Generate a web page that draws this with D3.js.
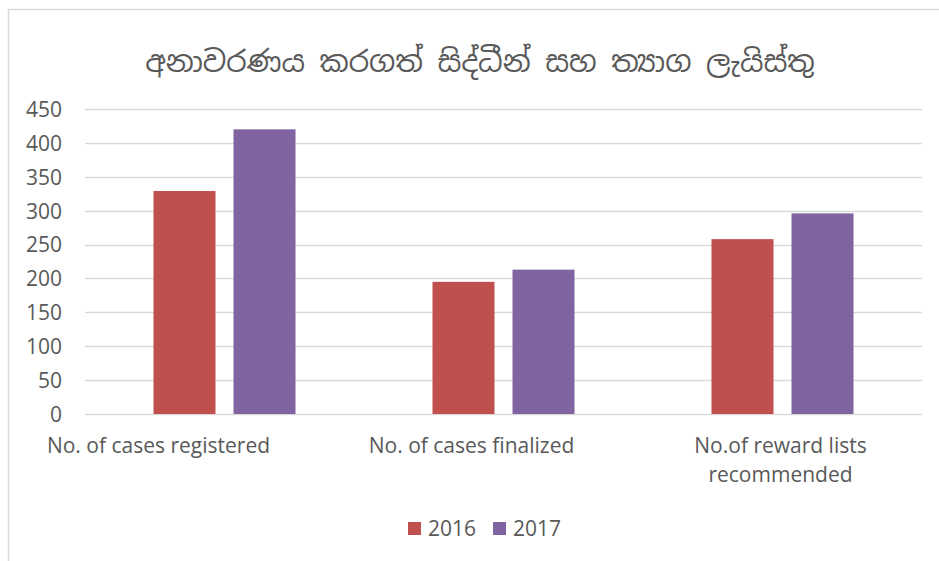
<!DOCTYPE html>
<html>
<head>
<meta charset="utf-8">
<script src="https://cdn.jsdelivr.net/npm/d3@7"></script>
<style>
  html, body { margin: 0; padding: 0; background: #fff; }
  svg { display: block; }
  text { font-family: "Open Sans", "Noto Sans", sans-serif; fill: #595959; }
</style>
</head>
<body>
<svg id="chart" width="939" height="561"></svg>
<script>
const title = "අනාවරණය කරගත් සිද්ධීන් සහ ත්‍යාග ලැයිස්තු";
const categories = ["No. of cases registered", "No. of cases finalized", "No.of reward lists recommended"];
const categoryLines = [["No. of cases registered"], ["No. of cases finalized"], ["No.of reward lists", "recommended"]];
const seriesNames = ["2016", "2017"];
const values2016 = [329, 195, 258];
const values2017 = [420, 213, 296];
const yTicks = [0, 50, 100, 150, 200, 250, 300, 350, 400, 450];
const colors = ["#C0504D", "#8064A2"];

const svg = d3.select("#chart");
const W = 939, H = 561;
const plot = { left: 85, right: 922, top: 109, bottom: 414 };

// chart border
svg.append("rect").attr("x", 8.5).attr("y", 9.5).attr("width", W).attr("height", H)
  .attr("fill", "none").attr("stroke", "#D9D9D9").attr("stroke-width", 1.5);

// title
svg.append("text").attr("x", 480).attr("y", 72).attr("text-anchor", "middle")
  .style("font-family", "'Noto Sans Sinhala', 'Iskoola Pota', 'Noto Sans', sans-serif")
  .style("font-size", "29px").style("fill", "#595959").text(title);

const x = d3.scaleBand().domain(categories).range([plot.left, plot.right]).padding(0);
const xInner = d3.scaleBand().domain(seriesNames).range([0, x.bandwidth()])
  .paddingInner(0.225).paddingOuter(0.856);
const y = d3.scaleLinear().domain([0, 450]).range([plot.bottom, plot.top]);

// gridlines
svg.append("g").selectAll("line").data(yTicks).join("line")
  .attr("x1", plot.left).attr("x2", plot.right)
  .attr("y1", d => Math.round(y(d)) + 0.5).attr("y2", d => Math.round(y(d)) + 0.5)
  .attr("stroke", "#D9D9D9").attr("stroke-width", 1.5);

// y axis labels
const yAxis = d3.axisLeft(y).tickValues(yTicks).tickSize(0).tickPadding(0);
const gy = svg.append("g").attr("transform", "translate(62,0)").call(yAxis);
gy.select(".domain").remove();
gy.selectAll("text").style("font-size", "21px").style("fill", "#595959")
  .style("font-family", "'Open Sans', sans-serif").attr("dy", "0.35em");

// bars
const data = categories.map((c, i) => ({ cat: c, vals: [values2016[i], values2017[i]] }));
const groups = svg.append("g").selectAll("g").data(data).join("g")
  .attr("transform", d => `translate(${x(d.cat)},0)`);
groups.selectAll("rect").data(d => d.vals.map((v, j) => ({ s: seriesNames[j], v, j })))
  .join("rect")
  .attr("x", d => xInner(d.s)).attr("width", xInner.bandwidth())
  .attr("y", d => y(d.v)).attr("height", d => y(0) - y(d.v))
  .attr("fill", d => colors[d.j]);

// category labels
const labelShift = [-66, -32, -2];
const gx = svg.append("g");
categories.forEach((c, i) => {
  const t = gx.append("text")
    .attr("x", x(c) + x.bandwidth() / 2 + labelShift[i])
    .attr("y", 453).attr("text-anchor", "middle").style("font-size", "21px");
  categoryLines[i].forEach((line, k) => {
    t.append("tspan").attr("x", x(c) + x.bandwidth() / 2 + labelShift[i])
      .attr("dy", k === 0 ? 0 : 29).text(line);
  });
});

// legend
const legendX = [408, 493];
const leg = svg.append("g").selectAll("g").data(seriesNames).join("g")
  .attr("transform", (d, i) => `translate(${legendX[i]},522)`);
leg.append("rect").attr("width", 13).attr("height", 13).attr("fill", (d, i) => colors[i]);
leg.append("text").attr("x", 20).attr("y", 14).style("font-size", "21px").text(d => d);
</script>
</body>
</html>
